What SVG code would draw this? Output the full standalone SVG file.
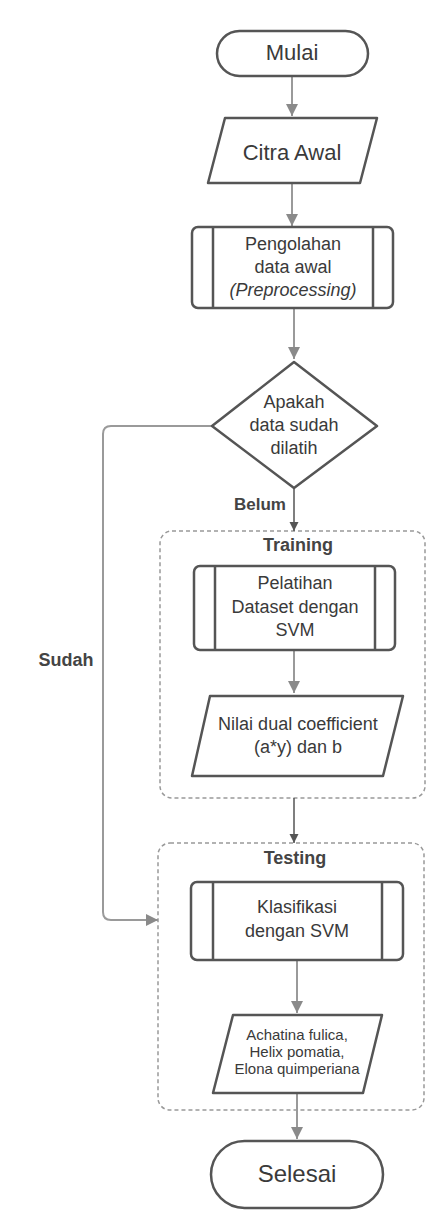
<svg xmlns="http://www.w3.org/2000/svg" width="443" height="1221" viewBox="0 0 443 1221">
<style>
.n{fill:#fff;stroke:#555;stroke-width:2.5;stroke-linejoin:round}
.in{stroke:#555;stroke-width:2.5}
.t{font-family:"Liberation Sans",Arial,sans-serif;fill:#3a3a3a;text-anchor:middle}
.b{font-weight:bold;fill:#444}
.c{fill:none;stroke:#9a9a9a;stroke-width:2}
.cd{fill:none;stroke:#555;stroke-width:1.5}
.g{fill:none;stroke:#999;stroke-width:1.5;stroke-dasharray:4 3}
</style>
<defs>
<marker id="ah" markerUnits="userSpaceOnUse" markerWidth="12" markerHeight="14" refX="12" refY="6" orient="auto">
<path d="M0,0 L12,6 L0,12 Z" fill="#8a8a8a"/>
</marker>
<marker id="ahd" markerUnits="userSpaceOnUse" markerWidth="10" markerHeight="10" refX="9" refY="4.5" orient="auto">
<path d="M0,0 L9,4.5 L0,9 Z" fill="#555"/>
</marker>
</defs>
<rect width="443" height="1221" fill="#fff"/>
<g id="containers">
<rect class="g" x="160" y="531" width="265" height="267" rx="12"/>
<text class="t b" x="298" y="551" font-size="18">Training</text>
<rect class="g" x="158" y="843" width="266" height="267" rx="12"/>
<text class="t b" x="295" y="864" font-size="18">Testing</text>
</g>
<g id="connectors">
<line class="c" x1="292" y1="76" x2="292" y2="116" marker-end="url(#ah)"/>
<line class="c" x1="292" y1="183" x2="292" y2="226" marker-end="url(#ah)"/>
<line class="c" x1="294" y1="308" x2="294" y2="359" marker-end="url(#ah)"/>
<path class="c" d="M212,426 H111 Q103,426 103,434 V912 Q103,920 111,920 H158" marker-end="url(#ah)"/>
<line class="cd" x1="294" y1="488" x2="294" y2="531" marker-end="url(#ahd)"/>
<line class="c" x1="294" y1="650" x2="294" y2="693" marker-end="url(#ah)"/>
<line class="cd" x1="294" y1="798" x2="294" y2="843" marker-end="url(#ahd)"/>
<line class="c" x1="297" y1="960" x2="297" y2="1013" marker-end="url(#ah)"/>
<line class="c" x1="297" y1="1093" x2="297" y2="1139" marker-end="url(#ah)"/>
<text class="t b" x="260" y="510" font-size="17">Belum</text>
<text class="t b" x="66" y="666" font-size="18">Sudah</text>
</g>
<g id="mulai">
<rect class="n" x="217" y="31" width="151" height="45" rx="22.5"/>
<text class="t" x="292" y="60" font-size="22">Mulai</text>
</g>
<g id="citra">
<path class="n" d="M225,118 L377,118 L360,183 L208,183 Z"/>
<text class="t" x="292" y="160" font-size="22">Citra Awal</text>
</g>
<g id="pengolahan">
<rect class="n" x="192" y="227" width="201" height="81" rx="6"/>
<line class="in" x1="213" y1="227" x2="213" y2="308"/>
<line class="in" x1="373" y1="227" x2="373" y2="308"/>
<text class="t" x="293" y="250" font-size="18">Pengolahan</text>
<text class="t" x="293" y="273" font-size="18">data awal</text>
<text class="t" x="293" y="296" font-size="18" font-style="italic">(Preprocessing)</text>
</g>
<g id="decision">
<path class="n" d="M294,362 L377,426 L294,488 L212,426 Z"/>
<text class="t" x="294" y="408" font-size="18">Apakah</text>
<text class="t" x="294" y="431" font-size="18">data sudah</text>
<text class="t" x="294" y="454" font-size="18">dilatih</text>
</g>
<g id="pelatihan">
<rect class="n" x="194" y="566" width="201" height="84" rx="6"/>
<line class="in" x1="215" y1="566" x2="215" y2="650"/>
<line class="in" x1="375" y1="566" x2="375" y2="650"/>
<text class="t" x="295" y="589" font-size="18">Pelatihan</text>
<text class="t" x="295" y="613" font-size="18">Dataset dengan</text>
<text class="t" x="295" y="636" font-size="18">SVM</text>
</g>
<g id="nilai">
<path class="n" d="M210,696 L403,696 L383,776 L192,776 Z"/>
<text class="t" x="298" y="730" font-size="18">Nilai dual coefficient</text>
<text class="t" x="298" y="753" font-size="18">(a*y) dan b</text>
</g>
<g id="klasifikasi">
<rect class="n" x="191" y="882" width="212" height="78" rx="6"/>
<line class="in" x1="213" y1="882" x2="213" y2="960"/>
<line class="in" x1="382" y1="882" x2="382" y2="960"/>
<text class="t" x="297" y="913" font-size="18">Klasifikasi</text>
<text class="t" x="297" y="937" font-size="18">dengan SVM</text>
</g>
<g id="output">
<path class="n" d="M233,1015 L382,1015 L363,1093 L213,1093 Z"/>
<text class="t" x="297" y="1040" font-size="15">Achatina fulica,</text>
<text class="t" x="297" y="1057" font-size="15">Helix pomatia,</text>
<text class="t" x="297" y="1074" font-size="15">Elona quimperiana</text>
</g>
<g id="selesai">
<rect class="n" x="211" y="1141" width="172" height="67" rx="33.5"/>
<text class="t" x="297" y="1182" font-size="24">Selesai</text>
</g>
</svg>
